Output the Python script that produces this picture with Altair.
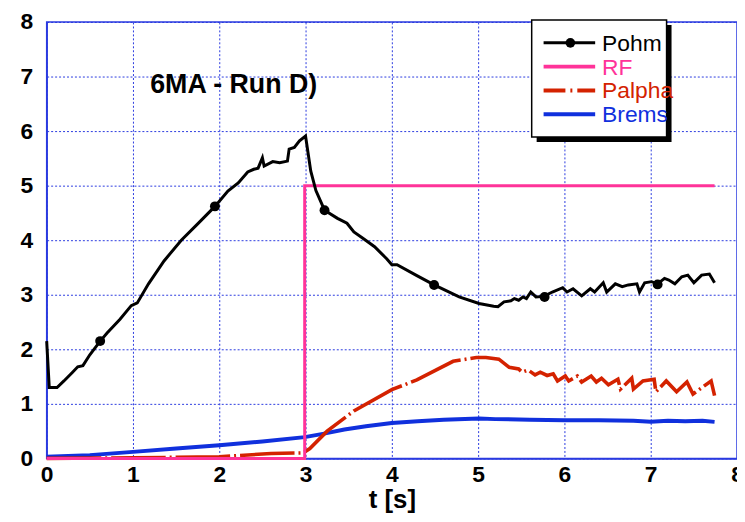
import altair as alt
import pandas as pd

# ---------------- data ----------------
pohm_t = [0.00, 0.03, 0.12, 0.20, 0.30, 0.36, 0.42, 0.50, 0.62, 0.70, 0.85, 0.98, 1.05,
          1.18, 1.36, 1.56, 1.75, 1.95, 2.10, 2.22, 2.33, 2.40, 2.45, 2.50, 2.52, 2.62,
          2.70, 2.79, 2.81, 2.87, 2.93, 3.00, 3.06, 3.12, 3.22, 3.37, 3.48, 3.56, 3.66,
          3.80, 3.94, 4.00, 4.06, 4.29, 4.49, 4.78, 5.01, 5.18, 5.23, 5.30, 5.38, 5.42,
          5.47, 5.52, 5.56, 5.61, 5.67, 5.76, 5.86, 5.98, 6.03, 6.10, 6.20, 6.30, 6.35,
          6.45, 6.49, 6.59, 6.67, 6.74, 6.84, 6.87, 6.93, 7.01, 7.08, 7.16, 7.21, 7.28,
          7.36, 7.43, 7.50, 7.59, 7.68, 7.74]
pohm_v = [2.15, 1.30, 1.30, 1.42, 1.58, 1.68, 1.70, 1.90, 2.15, 2.30, 2.55, 2.80, 2.85,
          3.20, 3.62, 4.00, 4.30, 4.62, 4.90, 5.05, 5.25, 5.30, 5.32, 5.51, 5.36, 5.44,
          5.42, 5.45, 5.67, 5.70, 5.82, 5.91, 5.27, 4.91, 4.55, 4.40, 4.31, 4.15, 4.04,
          3.88, 3.66, 3.55, 3.55, 3.35, 3.18, 2.96, 2.84, 2.79, 2.78, 2.87, 2.89, 2.93,
          2.90, 2.96, 2.93, 3.05, 2.96, 2.97, 3.05, 3.13, 3.05, 3.11, 2.98, 3.11, 3.05,
          3.22, 3.05, 3.20, 3.15, 3.18, 3.20, 3.05, 3.22, 3.24, 3.20, 3.30, 3.27, 3.20,
          3.33, 3.36, 3.22, 3.36, 3.38, 3.22]
pohm_marker_t = [0.62, 1.95, 3.22, 4.49, 5.77, 7.08]
pohm_marker_v = [2.15, 4.62, 4.55, 3.18, 2.96, 3.19]

rf_t = [0.00, 2.99, 2.99, 7.74]
rf_v = [0.00, 0.00, 5.00, 5.00]

palpha_t = [0.00, 1.00, 2.00, 2.60, 2.97, 3.05, 3.25, 3.56, 4.00, 4.29, 4.71, 4.98, 5.09,
            5.24, 5.36, 5.47, 5.51, 5.58, 5.66, 5.72, 5.80, 5.87, 5.92, 6.01, 6.05, 6.15,
            6.20, 6.31, 6.37, 6.43, 6.51, 6.62, 6.65, 6.78, 6.80, 6.91, 7.04, 7.06, 7.18,
            7.30, 7.42, 7.49, 7.70, 7.74]
palpha_v = [0.00, 0.01, 0.03, 0.09, 0.10, 0.18, 0.50, 0.87, 1.26, 1.44, 1.78, 1.85, 1.85,
            1.82, 1.67, 1.64, 1.58, 1.62, 1.53, 1.58, 1.52, 1.55, 1.42, 1.51, 1.42, 1.51,
            1.40, 1.51, 1.40, 1.47, 1.35, 1.45, 1.27, 1.47, 1.27, 1.42, 1.45, 1.22, 1.42,
            1.22, 1.40, 1.18, 1.42, 1.15]

brems_t = [0.00, 0.50, 1.00, 1.50, 2.00, 2.50, 2.99, 3.20, 3.45, 3.70, 4.00, 4.30, 4.60,
           5.01, 5.20, 5.60, 6.00, 6.40, 6.80, 7.00, 7.20, 7.40, 7.60, 7.74]
brems_v = [0.03, 0.06, 0.12, 0.18, 0.24, 0.31, 0.39, 0.45, 0.53, 0.59, 0.65, 0.68, 0.71,
           0.73, 0.72, 0.71, 0.70, 0.70, 0.69, 0.67, 0.69, 0.68, 0.69, 0.67]

series_names = ["Pohm", "RF", "Palpha", "Brems"]
series_colors = ["#000000", "#ff3399", "#d42200", "#1030dd"]

annotation = "6MA - Run D)"
x_title = "t [s]"
ticks = [0, 1, 2, 3, 4, 5, 6, 7, 8]

# ---------------- chart ----------------
W, H = 696, 440
FONT = "Liberation Sans"
GRID = "#2b3be0"

def df(ts, vs):
    return pd.DataFrame({"t": ts, "v": vs, "order": range(len(ts))})

xs = alt.Scale(domain=[0, 8], nice=False)
ys = alt.Scale(domain=[0, 8], nice=False)

xax = alt.Axis(values=ticks, title=x_title, labelFlush=False, labelBound=False,
               ticks=False, labelPadding=5, titlePadding=1, format="d")
yax = alt.Axis(values=ticks, title=None, ticks=False, labelPadding=14, format="d")

X = alt.X("t:Q", scale=xs, axis=xax)
Y = alt.Y("v:Q", scale=ys, axis=yax)

def enc(chart):
    return chart.encode(x=X, y=Y, order="order:Q")

brems = enc(alt.Chart(df(brems_t, brems_v)).mark_line(
    color=series_colors[3], strokeWidth=4))
palpha = enc(alt.Chart(df(palpha_t, palpha_v)).mark_line(
    color=series_colors[2], strokeWidth=3.6, strokeDash=[55, 4, 2, 4]))
rf = enc(alt.Chart(df(rf_t, rf_v)).mark_line(
    color=series_colors[1], strokeWidth=3))
pohm = enc(alt.Chart(df(pohm_t, pohm_v)).mark_line(
    color=series_colors[0], strokeWidth=3))
pohm_pts = alt.Chart(pd.DataFrame({"t": pohm_marker_t, "v": pohm_marker_v})).mark_point(
    filled=True, color="#000000", size=100, opacity=1).encode(x=X, y=Y)

note = alt.Chart(pd.DataFrame({"t": [1.2], "v": [6.69], "label": [annotation]})).mark_text(
    align="left", baseline="alphabetic", font=FONT, fontWeight="bold", fontSize=27,
    color="#000000").encode(x=X, y=Y, text="label:N")

# ---- manual legend (pixel positions inside plot area) ----
bx0, bx1, by0, by1 = 489, 625, -2, 116
legend_layers = [
    alt.Chart(pd.DataFrame({"a": [0]})).mark_rect(color="#000000").encode(
        x=alt.value(bx0 + 5), x2=alt.value(bx1 + 5), y=alt.value(by0 + 5), y2=alt.value(by1 + 5)),
    alt.Chart(pd.DataFrame({"a": [0]})).mark_rect(color="#ffffff", stroke="#000000", strokeWidth=1.5).encode(
        x=alt.value(bx0), x2=alt.value(bx1), y=alt.value(by0), y2=alt.value(by1)),
]
row_y = [21, 45, 69, 93]
dashes = [None, None, [22, 5, 2, 5], None]
widths = [3, 4, 4, 4]
for name, color, ry, dash, w in zip(series_names, series_colors, row_y, dashes, widths):
    kw = dict(color=color, strokeWidth=w)
    if dash:
        kw["strokeDash"] = dash
    legend_layers.append(
        alt.Chart(pd.DataFrame({"a": [0]})).mark_rule(**kw).encode(
            x=alt.value(501), x2=alt.value(553), y=alt.value(ry)))
    legend_layers.append(
        alt.Chart(pd.DataFrame({"label": [name]})).mark_text(
            align="left", baseline="middle", font=FONT, fontSize=23, color=color).encode(
            x=alt.value(560), y=alt.value(ry + 1), text="label:N"))
legend_layers.append(
    alt.Chart(pd.DataFrame({"a": [0]})).mark_point(filled=True, color="#000000", size=95, opacity=1).encode(
        x=alt.value(528), y=alt.value(row_y[0])))

chart = alt.layer(brems, palpha, rf, pohm, pohm_pts, note, *legend_layers).properties(
    width=W, height=H,
    background="#ffffff",
    autosize=alt.AutoSizeParams(type="none"),
    padding={"left": 39, "top": 12, "right": 0, "bottom": 60},
).configure_view(
    stroke=GRID, strokeWidth=1.5
).configure_axis(
    grid=True, gridColor=GRID, gridDash=[2, 2], gridWidth=1, gridOpacity=1,
    domain=True, domainColor=GRID, domainWidth=1.5,
    labelFont=FONT, labelFontSize=23, labelFontWeight="bold", labelColor="#000000",
    titleFont=FONT, titleFontSize=26, titleFontWeight="bold", titleColor="#000000",
)

chart.save("out.html", embed_options={"renderer": "svg", "actions": False})
